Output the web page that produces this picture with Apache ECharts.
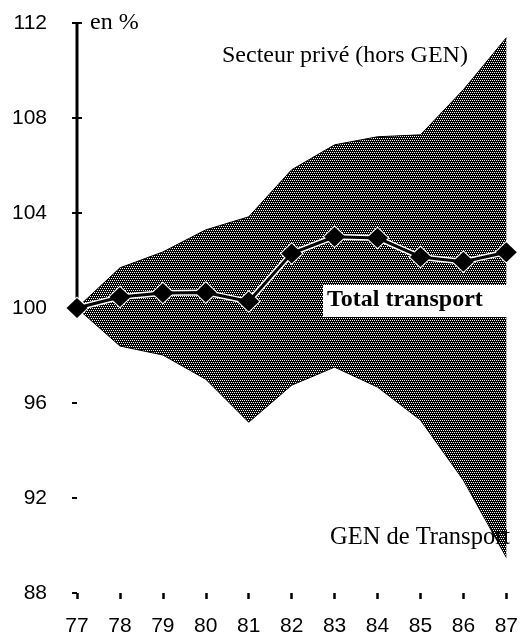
<!DOCTYPE html>
<html>
<head>
<meta charset="utf-8">
<script src="https://cdn.jsdelivr.net/npm/echarts@6/dist/echarts.min.js"></script>
<style>
html,body{margin:0;padding:0;background:#fff;}
#chart{width:521px;height:639px;}
</style>
</head>
<body>
<div id="chart"></div>
<script>
// ---- data ----
const categories = ['77','78','79','80','81','82','83','84','85','86','87'];
const totalTransport = [100, 100.46, 100.63, 100.65, 100.27, 102.3, 103.0, 102.95, 102.15, 101.95, 102.35];
const privateSector = [100, 101.69, 102.36, 103.29, 103.84, 105.82, 106.87, 107.21, 107.29, 109.19, 111.38];
const genTransport = [100, 98.4, 98.02, 97.0, 95.19, 96.75, 97.51, 96.67, 95.28, 92.75, 89.5];
const yTicks = [88, 92, 96, 100, 104, 108, 112];
const upperAxisTicks = [104, 108, 112];
const axisSegment = [['77', 100], ['77', 112]];

// ---- halftone pattern ----
const pc = document.createElement('canvas');
pc.width = 4; pc.height = 4;
const pctx = pc.getContext('2d');
pctx.fillStyle = '#000';
pctx.fillRect(0, 0, 4, 4);
pctx.fillStyle = '#fff';
[[0,0],[2,0],[1,2],[3,2]].forEach(p => pctx.fillRect(p[0], p[1], 1, 1));

const bandDiff = privateSector.map((v, i) => +(v - genTransport[i]).toFixed(2));

const chart = echarts.init(document.getElementById('chart'), null, {renderer: 'canvas'});
const sans = '"Liberation Sans", Arial, sans-serif';
const serif = '"Liberation Serif", "Times New Roman", serif';

chart.setOption({
  animation: false,
  backgroundColor: '#fff',
  grid: {left: 77, right: 12, top: 23, bottom: 46, containLabel: false},
  xAxis: {
    type: 'category',
    data: categories,
    boundaryGap: false,
    axisLine: {show: false},
    axisTick: {show: true, length: 6, lineStyle: {color: '#000', width: 2.5}},
    axisLabel: {color: '#000', fontFamily: sans, fontSize: 21, margin: 23},
    splitLine: {show: false}
  },
  yAxis: [{
    type: 'value',
    min: 88, max: 112, interval: 4,
    axisLine: {show: false},
    axisTick: {show: true, length: 5, lineStyle: {color: '#000', width: 2}},
    axisLabel: {color: '#000', fontFamily: sans, fontSize: 21, margin: 30,
      customValues: yTicks},
    splitLine: {show: false}
  }, {
    type: 'value',
    min: 88, max: 112, interval: 4,
    position: 'left',
    axisLine: {show: false},
    axisTick: {show: true, inside: true, length: 5, customValues: upperAxisTicks,
      lineStyle: {color: '#000', width: 2}},
    axisLabel: {show: false},
    splitLine: {show: false}
  }],
  series: [
    {
      name: 'GEN de Transport',
      type: 'line',
      data: genTransport,
      stack: 'band',
      symbol: 'none',
      lineStyle: {color: '#000', width: 1},
      z: 2
    },
    {
      name: 'Secteur privé (hors GEN)',
      type: 'line',
      data: bandDiff,
      stack: 'band',
      symbol: 'none',
      lineStyle: {color: '#000', width: 1},
      areaStyle: {color: {image: pc, repeat: 'repeat'}, opacity: 1},
      z: 2
    },
    {
      name: 'axis',
      type: 'line',
      data: axisSegment,
      symbol: 'none',
      lineStyle: {color: '#000', width: 3},
      z: 3
    },
    {
      name: 'halo',
      type: 'line',
      data: totalTransport,
      symbol: 'diamond',
      symbolSize: [24, 23],
      itemStyle: {color: '#fff'},
      lineStyle: {color: '#fff', width: 6},
      z: 4
    },
    {
      name: 'Total transport',
      type: 'line',
      data: totalTransport,
      symbol: 'diamond',
      symbolSize: [21, 20],
      itemStyle: {color: '#000'},
      lineStyle: {color: '#000', width: 3},
      z: 5
    }
  ],
  graphic: [
    {type: 'text', left: 90, top: 11, z: 10,
      style: {text: 'en %', font: '24px ' + serif, fill: '#000'}},
    {type: 'text', left: 222, top: 44, z: 10,
      style: {text: 'Secteur privé (hors GEN)', font: '24px ' + serif, fill: '#000'}},
    {type: 'rect', shape: {x: 323, y: 285, width: 187, height: 32}, z: 10,
      style: {fill: '#fff'}},
    {type: 'text', left: 327, top: 288, z: 11,
      style: {text: 'Total transport', font: 'bold 24px ' + serif, fill: '#000'}},
    {type: 'text', left: 330, top: 525, z: 10,
      style: {text: 'GEN de Transport', font: '24.5px ' + serif, fill: '#000'}}
  ]
});
</script>
</body>
</html>
